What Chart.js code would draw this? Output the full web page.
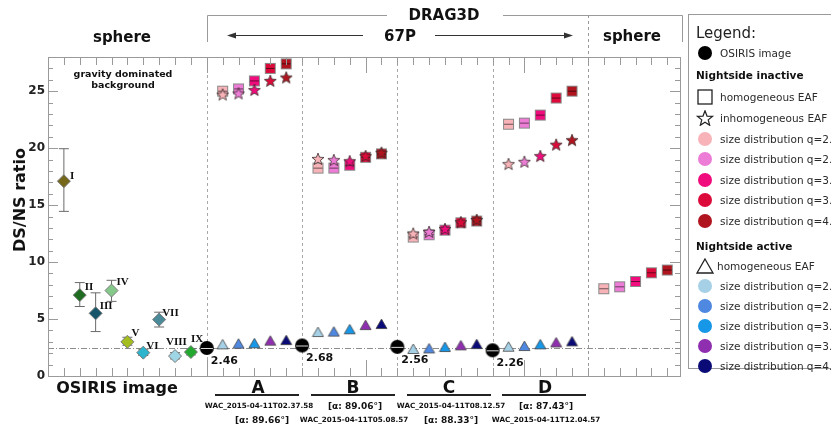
<!DOCTYPE html>
<html>
<head>
<meta charset="utf-8">
<script src="https://cdn.jsdelivr.net/npm/chart.js@4.4.1/dist/chart.umd.min.js"></script>
<style>
  html, body { margin:0; padding:0; background:#fff; overflow:hidden; }
  #wrap { position:relative; width:831px; height:429px; font-family:"DejaVu Sans", Verdana, sans-serif; color:#111; }
  #chart { position:absolute; left:0; top:0; }
  .t { position:absolute; white-space:nowrap; font-weight:bold; transform:translate(-50%,-50%); line-height:1; }
  .bar { position:absolute; height:2px; background:#222; top:394px; }
  #legend { position:absolute; left:688px; top:14px; width:170px; height:355px; border:1.5px solid #9a9a9a; box-sizing:border-box; }
  .lrow { position:absolute; left:0; height:16px; line-height:16px; font-size:10.5px; white-space:nowrap; color:#2a2a2a; }
  .lrow svg { position:absolute; left:0; top:0; }
  .lrow span { position:absolute; left:31px; }
  .lhead { position:absolute; left:7px; font-size:10.5px; font-weight:bold; white-space:nowrap; color:#111; }
</style>
</head>
<body>
<div id="wrap">
  <canvas id="chart" width="831" height="429"></canvas>

  <div class="t" style="left:122px;top:37px;font-size:15px">sphere</div>
  <div class="t" style="left:444px;top:15px;font-size:15px">DRAG3D</div>
  <div class="t" style="left:400px;top:36px;font-size:15px">67P</div>
  <div class="t" style="left:632px;top:36px;font-size:15px">sphere</div>
  <div class="t" style="left:123px;top:74px;font-size:9.5px">gravity dominated</div>
  <div class="t" style="left:123px;top:85px;font-size:9.5px">background</div>
  <div class="t" style="left:20px;top:200px;font-size:16px;transform:translate(-50%,-50%) rotate(-90deg)">DS/NS ratio</div>
  <div class="t" style="left:117px;top:388px;font-size:16px">OSIRIS image</div>

  <div class="t" style="left:258px;top:387px;font-size:17px">A</div>
  <div class="t" style="left:353px;top:387px;font-size:17px">B</div>
  <div class="t" style="left:449px;top:387px;font-size:17px">C</div>
  <div class="t" style="left:545px;top:387px;font-size:17px">D</div>
  <div class="bar" style="left:215px;width:84px"></div>
  <div class="bar" style="left:311px;width:84px"></div>
  <div class="bar" style="left:407px;width:84px"></div>
  <div class="bar" style="left:502px;width:84px"></div>

  <div class="t" style="left:259px;top:406px;font-size:7.2px">WAC_2015-04-11T02.37.58</div>
  <div class="t" style="left:355px;top:406px;font-size:9px">[α: 89.06°]</div>
  <div class="t" style="left:451px;top:406px;font-size:7.2px">WAC_2015-04-11T08.12.57</div>
  <div class="t" style="left:546px;top:406px;font-size:9px">[α: 87.43°]</div>
  <div class="t" style="left:262px;top:420px;font-size:9px">[α: 89.66°]</div>
  <div class="t" style="left:354px;top:420px;font-size:7.2px">WAC_2015-04-11T05.08.57</div>
  <div class="t" style="left:451px;top:420px;font-size:9px">[α: 88.33°]</div>
  <div class="t" style="left:546px;top:420px;font-size:7.2px">WAC_2015-04-11T12.04.57</div>

  <div id="legend"></div>
</div>

<script>
// ---- data ----
const osirisNames = ['I','II','III','IV','V','VI','VII','VIII','IX'];
const osirisX = [1, 2, 3, 4, 5, 6, 7, 8, 9];
const osirisVal = [17.1, 7.1, 5.5, 7.5, 3.0, 2.05, 4.95, 1.75, 2.1];
const osirisHi = [19.95, 8.2, 7.3, 8.4, 3.4, 2.35, 5.6, 2.05, 2.4];
const osirisLo = [14.45, 6.1, 3.9, 6.55, 2.7, 1.8, 4.3, 1.5, 1.85];
const osirisColors = ['#76681a','#1f6b22','#17566a','#84c98a','#a4bd1f','#2cb5cc','#4b8b99','#9fd6e6','#22a82e'];

const groupNames = ['A','B','C','D'];
const groupX = [10, 16, 22, 28];          // position of the OSIRIS reference point of each group
const groupRef = [2.46, 2.68, 2.56, 2.26];

const qValues = ['2.0','2.5','3.0','3.5','4.0'];
const inactiveColors = ['#f7b3b8','#ec7cd6','#f00c7c','#dc0a3a','#b0141f'];
const activeColors = ['#a6d0e6','#4f88e0','#1797e8','#8f2fb0','#0b0b78'];

// nightside inactive, homogeneous EAF (squares)
const homA = [25.0, 25.2, 25.9, 27.0, 27.4];
const homB = [18.25, 18.25, 18.5, 19.2, 19.5];
const homC = [12.2, 12.4, 12.8, 13.45, 13.6];
const homD = [22.1, 22.2, 22.9, 24.4, 25.0];
// nightside inactive, inhomogeneous EAF (stars)
const inhA = [24.7, 24.8, 25.1, 25.9, 26.2];
const inhB = [19.05, 18.95, 18.85, 19.3, 19.6];
const inhC = [12.5, 12.65, 12.9, 13.5, 13.7];
const inhD = [18.6, 18.8, 19.3, 20.3, 20.7];
// nightside active, homogeneous EAF (triangles)
const actA = [2.78, 2.84, 2.87, 3.1, 3.15];
const actB = [3.86, 3.9, 4.1, 4.47, 4.56];
const actC = [2.37, 2.42, 2.54, 2.69, 2.8];
const actD = [2.57, 2.63, 2.78, 2.95, 3.04];
// sphere, homogeneous EAF
const sphereX = [35, 36, 37, 38, 39];
const sphereVal = [7.66, 7.83, 8.3, 9.06, 9.3];

const yTickValues = [0, 5, 10, 15, 20, 25];

// ---- marker images ----
function mkCanvas(w, h){ const c = document.createElement('canvas'); c.width = w; c.height = h; return c; }
function squareMark(fill){
  const c = mkCanvas(13, 13), g = c.getContext('2d');
  g.fillStyle = fill; g.fillRect(1, 1, 11, 11);
  g.strokeStyle = '#8a8a8a'; g.lineWidth = 1; g.strokeRect(1.5, 1.5, 10, 10);
  g.strokeStyle = 'rgba(0,0,0,0.55)'; g.beginPath(); g.moveTo(2, 6.5); g.lineTo(11, 6.5); g.stroke();
  return c;
}
function starMark(fill){
  const c = mkCanvas(14, 14), g = c.getContext('2d');
  g.beginPath();
  for (let k = 0; k < 10; k++) {
    const r = k % 2 ? 2.7 : 6.3, a = -Math.PI / 2 + k * Math.PI / 5;
    g.lineTo(7 + r * Math.cos(a), 7.4 + r * Math.sin(a));
  }
  g.closePath(); g.fillStyle = fill; g.fill();
  g.strokeStyle = '#3a2a2a'; g.lineWidth = 0.8; g.stroke();
  return c;
}
function triMark(fill){
  const c = mkCanvas(13, 12), g = c.getContext('2d');
  g.beginPath(); g.moveTo(6.5, 1); g.lineTo(12, 10.5); g.lineTo(1, 10.5); g.closePath();
  g.fillStyle = fill; g.fill(); g.strokeStyle = '#444'; g.lineWidth = 0.8; g.stroke();
  return c;
}
function refMark(){
  const c = mkCanvas(16, 16), g = c.getContext('2d');
  g.beginPath(); g.arc(8, 8, 7, 0, Math.PI * 2); g.fillStyle = '#000'; g.fill();
  g.strokeStyle = 'rgba(255,255,255,0.85)'; g.lineWidth = 1; g.beginPath(); g.moveTo(2, 8.5); g.lineTo(14, 8.5); g.stroke();
  return c;
}

// build point lists from the arrays
function groupPoints(arrs){
  const pts = [];
  arrs.forEach((vals, gi) => vals.forEach((v, k) => pts.push({ x: groupX[gi] + 1 + k, y: v })));
  return pts;
}
const homPts = groupPoints([homA, homB, homC, homD]).concat(sphereX.map((x, k) => ({ x, y: sphereVal[k] })));
const homStyles = homPts.map((p, i) => squareMark(inactiveColors[i % 5]));
const inhPts = groupPoints([inhA, inhB, inhC, inhD]);
const inhStyles = inhPts.map((p, i) => starMark(inactiveColors[i % 5]));
const actPts = groupPoints([actA, actB, actC, actD]);
const actStyles = actPts.map((p, i) => triMark(activeColors[i % 5]));
const refPts = groupX.map((x, i) => ({ x, y: groupRef[i] }));
const osirisPts = osirisX.map((x, i) => ({ x, y: osirisVal[i] }));

// label offsets for the roman numerals (px relative to the diamond)
const romanOff = [[6,-5],[5,-8],[4,-7],[5,-8],[4,-9],[3,-6],[3,-6],[-9,-14],[0,-13]];

const decor = {
  id: 'decor',
  beforeDatasetsDraw(chart){
    const { ctx, chartArea: a, scales: { x, y } } = chart;
    ctx.save();
    // dashed group separators
    ctx.setLineDash([3, 3]); ctx.strokeStyle = '#a8a8a8'; ctx.lineWidth = 1;
    groupX.forEach(gx => {
      const px = Math.round(x.getPixelForValue(gx)) + 0.5;
      ctx.beginPath(); ctx.moveTo(px, a.top); ctx.lineTo(px, a.bottom); ctx.stroke();
    });
    const sx = Math.round(x.getPixelForValue(34)) + 0.5;
    ctx.strokeStyle = '#999';
    ctx.beginPath(); ctx.moveTo(sx, 15); ctx.lineTo(sx, a.bottom); ctx.stroke();
    // dash-dot reference level
    ctx.setLineDash([6, 2, 1, 2]); ctx.strokeStyle = '#8c8c8c';
    const ry = Math.round(y.getPixelForValue(groupRef[0])) + 0.5;
    ctx.beginPath(); ctx.moveTo(a.left, ry); ctx.lineTo(a.right, ry); ctx.stroke();
    ctx.setLineDash([]);
    // error bars
    ctx.strokeStyle = '#6a6a6a';
    osirisX.forEach((ox, i) => {
      const px = x.getPixelForValue(ox), hi = y.getPixelForValue(osirisHi[i]), lo = y.getPixelForValue(osirisLo[i]);
      ctx.beginPath();
      ctx.moveTo(px, hi); ctx.lineTo(px, lo);
      ctx.moveTo(px - 5, hi); ctx.lineTo(px + 5, hi);
      ctx.moveTo(px - 5, lo); ctx.lineTo(px + 5, lo);
      ctx.stroke();
    });
    ctx.restore();
  },
  afterDatasetsDraw(chart){
    const { ctx, chartArea: a, scales: { x, y } } = chart;
    ctx.save();
    // frame and inward ticks
    ctx.strokeStyle = '#9a9a9a'; ctx.lineWidth = 1;
    ctx.strokeRect(a.left + 0.5, a.top + 0.5, a.right - a.left, a.bottom - a.top);
    ctx.beginPath();
    for (let i = 1; i <= 39; i++) {
      const px = Math.round(x.getPixelForValue(i)) + 0.5, len = i % 10 === 0 ? 16 : 8;
      ctx.moveTo(px, a.bottom); ctx.lineTo(px, a.bottom - len);
      ctx.moveTo(px, a.top); ctx.lineTo(px, a.top + len);
    }
    for (let v = 1; v <= 27; v++) {
      const py = Math.round(y.getPixelForValue(v)) + 0.5, len = v % 5 === 0 ? 10 : 5;
      ctx.moveTo(a.left, py); ctx.lineTo(a.left + len, py);
      ctx.moveTo(a.right, py); ctx.lineTo(a.right - len, py);
    }
    ctx.stroke();
    // header bracket and arrows
    ctx.strokeStyle = '#9a9a9a';
    ctx.beginPath();
    ctx.moveTo(207.5, 42); ctx.lineTo(207.5, 15.5); ctx.lineTo(387, 15.5);
    ctx.moveTo(503, 15.5); ctx.lineTo(682.5, 15.5); ctx.lineTo(682.5, 42);
    ctx.stroke();
    ctx.strokeStyle = '#333'; ctx.fillStyle = '#333';
    ctx.beginPath(); ctx.moveTo(230, 35.5); ctx.lineTo(363, 35.5); ctx.moveTo(435, 35.5); ctx.lineTo(570, 35.5); ctx.stroke();
    ctx.beginPath(); ctx.moveTo(227, 35.5); ctx.lineTo(236, 32.5); ctx.lineTo(236, 38.5); ctx.closePath(); ctx.fill();
    ctx.beginPath(); ctx.moveTo(573, 35.5); ctx.lineTo(564, 32.5); ctx.lineTo(564, 38.5); ctx.closePath(); ctx.fill();
    // roman numerals
    ctx.fillStyle = '#111'; ctx.font = 'bold 11px "Liberation Serif", "DejaVu Serif", serif'; ctx.textBaseline = 'middle';
    osirisNames.forEach((n, i) => {
      ctx.fillText(n, x.getPixelForValue(osirisX[i]) + romanOff[i][0], y.getPixelForValue(osirisVal[i]) + romanOff[i][1]);
    });
    // reference values
    ctx.font = 'bold 11px "DejaVu Sans", sans-serif';
    groupRef.forEach((v, i) => {
      ctx.fillText(v.toFixed(2), x.getPixelForValue(groupX[i]) + 4, y.getPixelForValue(v) + 13);
    });
    ctx.restore();
  }
};

new Chart(document.getElementById('chart'), {
  type: 'scatter',
  data: {
    datasets: [
      { label: 'OSIRIS reference', data: refPts, pointStyle: refMark(), pointRadius: 8, order: 0 },
      { label: 'OSIRIS image', data: osirisPts, pointStyle: 'rectRot', pointRadius: 6.5,
        backgroundColor: osirisColors, borderColor: '#7a7a7a', borderWidth: 1, order: 1 },
      { label: 'active homogeneous EAF', data: actPts, pointStyle: actStyles, pointRadius: 6, order: 2 },
      { label: 'inhomogeneous EAF', data: inhPts, pointStyle: inhStyles, pointRadius: 6, order: 3 },
      { label: 'homogeneous EAF', data: homPts, pointStyle: homStyles, pointRadius: 6, order: 4 }
    ]
  },
  options: {
    responsive: false,
    animation: false,
    events: [],
    layout: { padding: { top: 57, right: 151, bottom: 53, left: 0 } },
    plugins: { legend: { display: false }, tooltip: { enabled: false } },
    scales: {
      x: { type: 'linear', min: 0, max: 39.8, display: false },
      y: {
        min: 0, max: 28,
        afterFit(s){ s.width = 48; },
        afterBuildTicks(s){ s.ticks = yTickValues.map(v => ({ value: v })); },
        grid: { display: false, drawTicks: false },
        border: { display: false },
        ticks: { padding: 3, color: '#222', font: { family: 'DejaVu Sans', size: 12, weight: 'bold' } }
      }
    }
  },
  plugins: [decor]
});

// ---- legend panel ----
const legend = document.getElementById('legend');
function addRow(cy, svg, text){
  const d = document.createElement('div');
  d.className = 'lrow'; d.style.top = (cy - 14 - 8) + 'px'; d.style.width = '170px';
  d.innerHTML = '<svg width="30" height="16" viewBox="0 0 30 16">' + svg + '</svg><span>' + text + '</span>';
  legend.appendChild(d);
}
function addHead(cy, text){
  const d = document.createElement('div');
  d.className = 'lhead'; d.style.top = (cy - 14 - 7) + 'px'; d.textContent = text;
  legend.appendChild(d);
}
const lt = document.createElement('div');
lt.style.cssText = 'position:absolute;left:7px;top:9px;font-size:15px;color:#222;white-space:nowrap';
lt.textContent = 'Legend:';
legend.appendChild(lt);

const circ = c => '<circle cx="16" cy="8" r="7" fill="' + c + '"/>';
addRow(52, circ('#000'), 'OSIRIS image');
addHead(75, 'Nightside inactive');
addRow(96, '<rect x="9" y="1" width="14" height="14" fill="none" stroke="#222" stroke-width="1.3"/>', 'homogeneous EAF');
const starPath = [];
for (let k = 0; k < 10; k++) {
  const r = k % 2 ? 3.4 : 8, a = -Math.PI / 2 + k * Math.PI / 5;
  starPath.push((16 + r * Math.cos(a)).toFixed(2) + ',' + (8.8 + r * Math.sin(a)).toFixed(2));
}
addRow(117, '<polygon points="' + starPath.join(' ') + '" fill="none" stroke="#222" stroke-width="1.2"/>', 'inhomogeneous EAF');
qValues.forEach((q, i) => addRow(138 + i * 20.4, circ(inactiveColors[i]), 'size distribution q=' + q));
addHead(246, 'Nightside active');
addRow(265, '<polygon points="16,1 24,15 8,15" fill="none" stroke="#222" stroke-width="1.3"/>', '<span style="left:-3px">homogeneous EAF</span>');
qValues.forEach((q, i) => addRow(285 + i * 19.9, circ(activeColors[i]), 'size distribution q=' + q));
</script>
</body>
</html>
